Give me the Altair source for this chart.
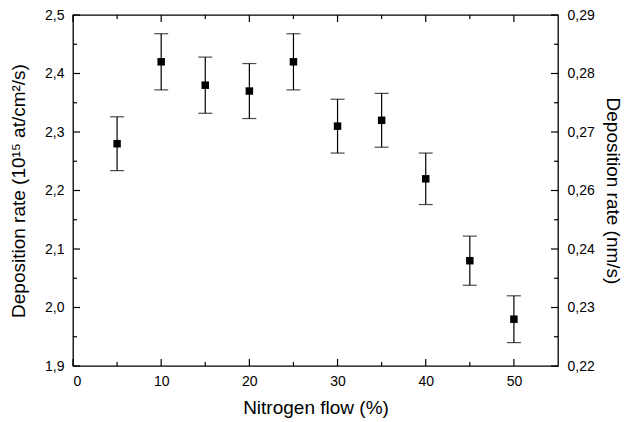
import altair as alt
import pandas as pd

# ---- data ----
flow = [5, 10, 15, 20, 25, 30, 35, 40, 45, 50]
rate = [2.28, 2.42, 2.38, 2.37, 2.42, 2.31, 2.32, 2.22, 2.08, 1.98]
err = [0.046, 0.048, 0.048, 0.047, 0.048, 0.046, 0.046, 0.044, 0.042, 0.040]

x_major = [0, 10, 20, 30, 40, 50]
x_minor = [5, 15, 25, 35, 45]
y_major = [1.9, 2.0, 2.1, 2.2, 2.3, 2.4, 2.5]
y_minor = [1.95, 2.05, 2.15, 2.25, 2.35, 2.45]
right_labels = ["0,22", "0,23", "0,24", "0,26", "0,27", "0,28", "0,29"]

W, H = 485, 351
FONT = "Liberation Sans"
MAJOR, MINOR = 7, 4

df = pd.DataFrame({"flow": flow, "rate": rate, "err": err})
df["lo"] = df["rate"] - df["err"]
df["hi"] = df["rate"] + df["err"]

xs = alt.Scale(domain=[0, 55], nice=False, zero=False)
ys = alt.Scale(domain=[1.9, 2.5], nice=False, zero=False)

# label expression for the right axis, built from the label list
expr = "'" + right_labels[-1] + "'"
for v, lab in reversed(list(zip(y_major[:-1], right_labels[:-1]))):
    expr = f"datum.value < {v + 0.05:.3f} ? '{lab}' : " + expr
right_expr = expr
left_expr = "replace(format(datum.value, '.1f'), '.', ',')"

base = alt.Chart(df)


def xticks(values, y0, y1):
    return alt.Chart(pd.DataFrame({"v": values})).mark_rule(
        color="black", strokeWidth=1.2
    ).encode(
        x=alt.X("v:Q", scale=xs, axis=None),
        y=alt.value(y0), y2=alt.value(y1),
    )


def yticks(values, x0, x1):
    return alt.Chart(pd.DataFrame({"v": values})).mark_rule(
        color="black", strokeWidth=1.2
    ).encode(
        y=alt.Y("v:Q", scale=ys, axis=None),
        x=alt.value(x0), x2=alt.value(x1),
    )


tick_layers = [
    xticks(x_major, H, H - MAJOR), xticks(x_minor, H, H - MINOR),
    xticks(x_major, 0, MAJOR), xticks(x_minor, 0, MINOR),
    yticks(y_major, 0, MAJOR), yticks(y_minor, 0, MINOR),
    yticks(y_major, W, W - MAJOR), yticks(y_minor, W, W - MINOR),
]

bars = base.mark_rule(color="black", strokeWidth=1.2).encode(
    x=alt.X("flow:Q", scale=xs, axis=None),
    y=alt.Y("lo:Q", scale=ys, axis=None),
    y2="hi:Q",
)

caps = base.transform_fold(["lo", "hi"], as_=["k", "v"]).mark_tick(
    orient="horizontal", size=14, thickness=1.2, color="black"
).encode(
    x=alt.X("flow:Q", scale=xs, axis=None),
    y=alt.Y("v:Q", scale=ys, axis=None),
)

points = base.mark_square(size=56, color="black", opacity=1).encode(
    x=alt.X("flow:Q", scale=xs,
            axis=alt.Axis(orient="bottom", values=x_major, ticks=False, domain=False,
                          grid=False, labelPadding=8, title="Nitrogen flow (%)",
                          titlePadding=10)),
    y=alt.Y("rate:Q", scale=ys,
            axis=alt.Axis(orient="left", values=y_major, ticks=False, domain=False,
                          grid=False, labelExpr=left_expr, labelPadding=9,
                          title="Deposition rate (10¹⁵ at/cm²/s)", titlePadding=16)),
)

right = base.mark_point(opacity=0).encode(
    x=alt.X("flow:Q", scale=xs, axis=None),
    y=alt.Y("rate:Q", scale=ys,
            axis=alt.Axis(orient="right", values=y_major, ticks=False, domain=False,
                          grid=False, labelExpr=right_expr, labelPadding=9,
                          title="Deposition rate (nm/s)", titleAngle=90,
                          titlePadding=8)),
)

chart = alt.layer(*tick_layers, right, bars, caps, points).resolve_axis(
    x="independent", y="independent"
).properties(
    width=W, height=H,
    autosize=alt.AutoSizeParams(type="none"),
    padding={"left": 73, "top": 15, "right": 66, "bottom": 56},
).configure_view(
    stroke="black", strokeWidth=1.3
).configure_axis(
    labelFont=FONT, titleFont=FONT, labelFontSize=14, titleFontSize=19,
    titleFontWeight="normal", labelColor="black", titleColor="black",
)

chart.save("out.html", embed_options={"renderer": "svg", "actions": False})
